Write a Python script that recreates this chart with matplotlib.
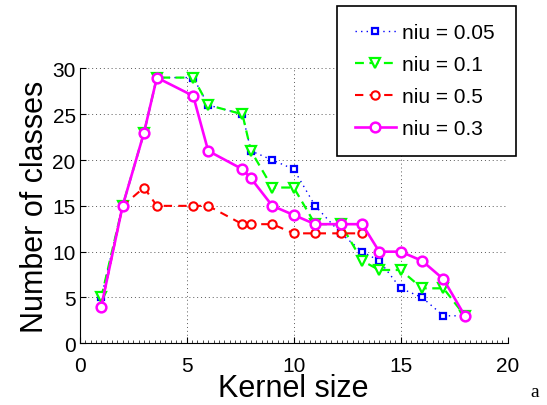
#!/usr/bin/env python3

import matplotlib
matplotlib.use("Agg")
import matplotlib.pyplot as plt
from matplotlib.ticker import MultipleLocator

plt.rcParams['font.family'] = ['Liberation Sans', 'DejaVu Sans']

# kernel sizes
kernel_size = [1, 2, 3, 3.6, 5.3, 6, 7.6, 8, 9, 10, 11, 12.2, 13.2, 14, 15, 16, 17, 18]
kernel_size_red = kernel_size[:13]

niu_005 = [5, 15, 23, 29, 29, 26, 25, 21, 20, 19, 15, 12, 10, 9, 6, 5, 3, 3]
niu_01 = [5, 15, 23, 29, 29, 26, 25, 21, 17, 17, 13, 13, 9, 8, 8, 6, 6, 3]
niu_05 = [4, 15, 17, 15, 15, 15, 13, 13, 13, 12, 12, 12, 12]
niu_03 = [4, 15, 23, 29, 27, 21, 19, 18, 15, 14, 13, 13, 13, 10, 10, 9, 7, 3]

labels = ["niu = 0.05", "niu = 0.1", "niu = 0.5", "niu = 0.3"]

fig = plt.figure(figsize=(5.47, 4.06), dpi=100)
ax = fig.add_axes([0.146, 0.152, 0.782, 0.677])

ax.plot(kernel_size, niu_005, linestyle=(0, (1, 3)), color='#0000FF', lw=1.0,
        marker='s', ms=5, mfc='white', mec='#0000FF', mew=1.6, label=labels[0])
ax.plot(kernel_size, niu_01, linestyle=(0, (4, 2.5)), color='#00FF00', lw=1.6,
        marker='v', ms=7, mfc='white', mec='#00FF00', mew=1.6, label=labels[1])
ax.plot(kernel_size_red, niu_05, linestyle=(0, (4, 3)), color='#FF0000', lw=1.5,
        marker='o', ms=6, mfc='white', mec='#FF0000', mew=1.5, label=labels[2])
ax.plot(kernel_size, niu_03, linestyle='-', color='#FF00FF', lw=1.9,
        marker='o', ms=7, mfc='white', mec='#FF00FF', mew=1.8, label=labels[3])

ax.set_xlim(0, 20)
ax.set_ylim(0, 30)
ax.xaxis.set_major_locator(MultipleLocator(5))
ax.xaxis.set_minor_locator(MultipleLocator(0.25))
ax.yaxis.set_major_locator(MultipleLocator(5))

ax.grid(True, which='major', linestyle=(0, (1, 3)), color='0.35', lw=0.7)
ax.spines['top'].set_visible(False)
ax.spines['right'].set_visible(False)
ax.tick_params(which='major', direction='in', length=4, width=0.8, labelsize=15, pad=3)
ax.tick_params(axis='x', which='major', pad=9)
ax.tick_params(which='minor', direction='in', length=2, width=0.5)

ax.set_xlabel("Kernel size", fontsize=22, labelpad=-1)
ax.set_ylabel("Number of classes", fontsize=22, labelpad=2)

# legend box sits partly outside the axes, as in the original figure
leg = fig.legend(loc='upper left', bbox_to_anchor=(337 / 547, 1 - 151 / 406, 179 / 547, 144 / 406),
                 mode='expand', fontsize=15, handlelength=2.0, handletextpad=0.3,
                 labelspacing=0.62, borderpad=0.84, borderaxespad=0,
                 fancybox=False, framealpha=1, edgecolor='black')
leg.get_frame().set_linewidth(1.2)

fig.text(0.978, 0.034, "a", fontsize=14, family='Liberation Serif', ha='center', va='center')

fig.savefig("out.png", dpi=100)
